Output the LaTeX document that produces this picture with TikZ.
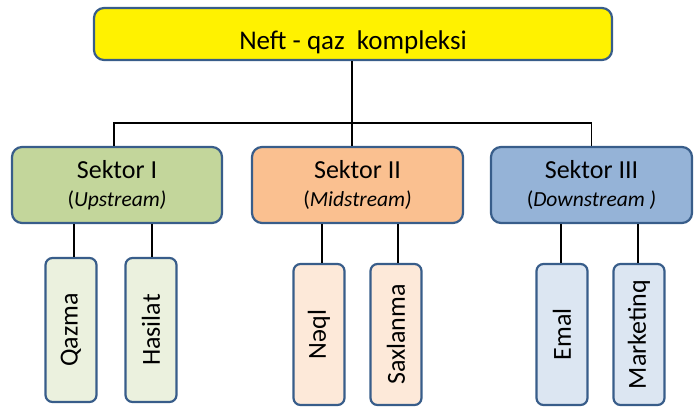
\documentclass[tikz,border=0pt]{standalone}
\usepackage{fontspec}
\setmainfont{Carlito}
\usetikzlibrary{positioning}
\definecolor{frame}{HTML}{385D8A}
\definecolor{upfill}{HTML}{C3D69B}
\definecolor{midfill}{HTML}{FAC090}
\definecolor{downfill}{HTML}{95B3D7}
\definecolor{uplight}{HTML}{EBF1DE}
\definecolor{midlight}{HTML}{FDE9D9}
\definecolor{downlight}{HTML}{DCE6F2}
\tikzstyle{head} = [rectangle, rounded corners=10pt, minimum width=518pt, minimum height=52pt, text centered, text height=30pt, text depth=0pt, draw=frame, line width=2.2pt, fill=yellow, font=\fontsize{27}{30}\selectfont]
\tikzstyle{sector} = [rectangle, rounded corners=10pt, minimum height=76pt, align=center, draw=frame, line width=2.2pt, font=\fontsize{26}{28}\selectfont]
\tikzstyle{branch} = [rectangle, rounded corners=7pt, minimum width=51pt, minimum height=141pt, inner sep=0pt, draw=frame, line width=2.2pt, font=\fontsize{26}{28}\selectfont]
\tikzstyle{link} = [line width=1.5pt]
\newcommand{\sub}[1]{{\fontsize{21.5}{28}\selectfont #1}}

\begin{document}
\begin{tikzpicture}[x=1pt, y=-1pt]
\useasboundingbox (0,0) rectangle (694,407);

\node (top) [head] at (353,34) {Neft - qaz\ \ kompleksi};

\node (up) [sector, fill=upfill, minimum width=210pt] at (117,185) {Sektor I\\\sub{(\textit{Upstream)}}};
\node (mid) [sector, fill=midfill, minimum width=211pt] at (357.5,185) {Sektor II\\\sub{(\textit{Midstream)}}};
\node (down) [sector, fill=downfill, minimum width=201pt] at (591.5,185) {Sektor III\\\sub{(\textit{Downstream )}}};

\node (qazma) [branch, fill=uplight, minimum height=144pt] at (71,330) {\rotatebox{90}{Qazma}};
\node (hasilat) [branch, fill=uplight, minimum height=144pt] at (151,330) {\rotatebox{90}{Hasilat}};
\node (neql) [branch, fill=midlight] at (319,334.5) {\rotatebox{90}{Nəql}};
\node (saxlanma) [branch, fill=midlight] at (396,334.5) {\rotatebox{90}{Saxlanma}};
\node (emal) [branch, fill=downlight] at (562,334.5) {\rotatebox{90}{Emal}};
\node (marketinq) [branch, fill=downlight] at (639,334.5) {\rotatebox{90}{Marketinq}};

% tree lines
\coordinate (hub) at (352,123);
\draw [link] (top.south -| hub) -- (hub);
\draw [link] (up.north -| 114,0) |- (hub) -| (down.north);
\draw [link] (hub) -- (hub |- mid.north);

\draw [link] (qazma.north -| 74,0) -- (74,0 |- up.south);
\draw [link] (hasilat.north -| 152,0) -- (152,0 |- up.south);
\draw [link] (neql.north -| 322,0) -- (322,0 |- mid.south);
\draw [link] (saxlanma.north -| 398,0) -- (398,0 |- mid.south);
\draw [link] (emal.north -| 561,0) -- (561,0 |- down.south);
\draw [link] (marketinq.north -| 638,0) -- (638,0 |- down.south);
\end{tikzpicture}
\end{document}
